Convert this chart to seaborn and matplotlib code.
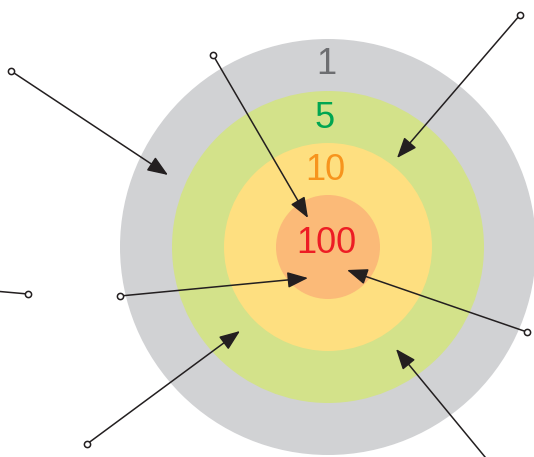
import matplotlib.pyplot as plt
import seaborn as sns
from matplotlib.patches import Circle

# target rings, outer to inner (pixel units of the original picture)
ring_radius = [208, 156, 104, 52]
ring_colors = ["#D1D2D4", "#D3E28A", "#FEDF80", "#FBBA78"]
ring_labels = ["1", "5", "10", "100"]
label_colors = ["#6D6E71", "#00A651", "#F7941D", "#ED1C24"]
label_x = [326, 325, 325, 326]
label_base_y = [74, 128, 180, 253]
center = (328, 247)

# arrows: open circle at tail, arrowhead at head
tail_x = [11, 213, 520, 28, 120, 87, 527, 504]
tail_y = [71, 55, 15, 294, 296, 444, 332, 480]
head_x = [168, 308, 397, -40, 308, 240, 347, 396]
head_y = [175, 218, 158, 288, 278, 331, 270, 349]

sns.set_theme(style="white")
plt.rcParams['font.family'] = ['Liberation Sans Narrow', 'Liberation Sans', 'DejaVu Sans']

fig = plt.figure(figsize=(5.34, 4.57), dpi=100)
ax = fig.add_axes([0, 0, 1, 1])
ax.set_xlim(0, 534)
ax.set_ylim(457, 0)
ax.axis('off')

for r, c in zip(ring_radius, ring_colors):
    ax.add_patch(Circle(center, r, facecolor=c, edgecolor='none', zorder=1))

for t, c, x, y in zip(ring_labels, label_colors, label_x, label_base_y):
    ax.text(x, y, t, color=c, fontsize=26, ha='center', va='baseline', zorder=3)

for tx, ty, hx, hy in zip(tail_x, tail_y, head_x, head_y):
    ax.annotate("", xy=(hx, hy), xytext=(tx, ty), annotation_clip=False,
                arrowprops=dict(arrowstyle='-|>,head_length=0.9,head_width=0.35',
                                mutation_scale=14, color='#231F20', lw=1.1,
                                shrinkA=0, shrinkB=0),
                zorder=4)

sns.scatterplot(x=tail_x, y=tail_y, ax=ax, marker='o', s=20, color='white',
                edgecolor='#231F20', linewidth=1.1, zorder=5, legend=False)
ax.set_xlim(0, 534)
ax.set_ylim(457, 0)

fig.savefig('out.png', dpi=100)
